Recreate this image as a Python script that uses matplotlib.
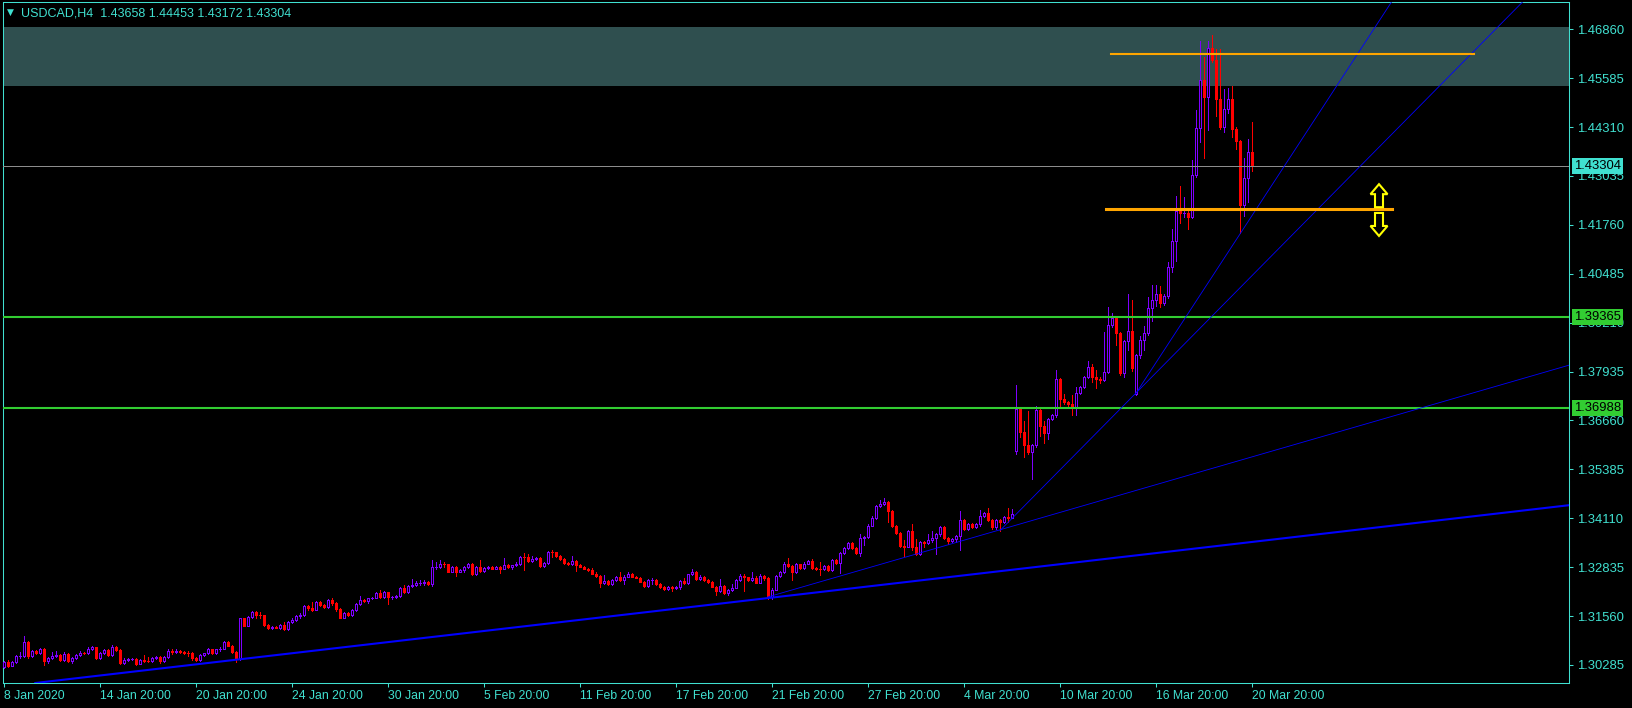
import numpy as np
import matplotlib
matplotlib.use("Agg")
import matplotlib.pyplot as plt
import matplotlib.transforms as mtransforms
from matplotlib.patches import Rectangle, Polygon
from matplotlib.collections import PatchCollection

# USDCAD H4 candles, one per bar, prices in pips (1e-4); open = previous close
first_open = 13024
closes = [13037, 13027, 13037, 13053, 13053, 13088, 13052, 13066, 13059, 13070,
          13040, 13047, 13053, 13054, 13042, 13057, 13039, 13047, 13054, 13060,
          13059, 13070, 13075, 13047, 13060, 13067, 13054, 13075, 13068, 13033,
          13042, 13043, 13044, 13032, 13042, 13040, 13039, 13047, 13049, 13039,
          13050, 13065, 13063, 13066, 13062, 13061, 13060, 13047, 13041, 13054,
          13059, 13070, 13060, 13069, 13071, 13089, 13079, 13062, 13044, 13150,
          13131, 13153, 13167, 13159, 13158, 13133, 13125, 13128, 13126, 13133,
          13122, 13140, 13146, 13155, 13159, 13182, 13176, 13173, 13193, 13185,
          13180, 13198, 13189, 13174, 13152, 13164, 13159, 13173, 13188, 13199,
          13195, 13202, 13204, 13216, 13206, 13219, 13206, 13206, 13208, 13229,
          13219, 13235, 13237, 13241, 13241, 13246, 13240, 13283, 13284, 13292,
          13291, 13272, 13284, 13271, 13276, 13284, 13292, 13267, 13283, 13274,
          13281, 13284, 13280, 13284, 13280, 13289, 13283, 13288, 13293, 13310,
          13309, 13300, 13305, 13308, 13287, 13295, 13323, 13322, 13313, 13306,
          13294, 13293, 13300, 13290, 13285, 13280, 13276, 13267, 13260, 13242,
          13247, 13240, 13250, 13257, 13250, 13259, 13267, 13259, 13256, 13246,
          13235, 13250, 13251, 13240, 13232, 13227, 13232, 13228, 13233, 13247,
          13242, 13265, 13271, 13252, 13259, 13250, 13245, 13233, 13221, 13234,
          13217, 13224, 13230, 13250, 13260, 13257, 13250, 13256, 13243, 13260,
          13256, 13205, 13224, 13260, 13270, 13293, 13287, 13271, 13291, 13281,
          13293, 13300, 13282, 13279, 13278, 13287, 13276, 13302, 13295, 13321,
          13333, 13346, 13334, 13321, 13359, 13363, 13392, 13413, 13443, 13447,
          13453, 13431, 13391, 13373, 13340, 13337, 13378, 13335, 13319, 13349,
          13346, 13354, 13360, 13370, 13388, 13360, 13353, 13357, 13365, 13406,
          13383, 13396, 13389, 13396, 13417, 13425, 13406, 13387, 13406, 13400,
          13414, 13413, 13422, 13696, 13636, 13602, 13583, 13601, 13693, 13652,
          13633, 13670, 13680, 13774, 13722, 13715, 13709, 13702, 13737, 13752,
          13779, 13805, 13778, 13774, 13771, 13793, 13915, 13934, 13893, 13789,
          13873, 13899, 13802, 13837, 13876, 13893, 13958, 13980, 13996, 13973,
          13990, 14065, 14134, 14212, 14206, 14208, 14197, 14306, 14428, 14554,
          14510, 14638, 14607, 14503, 14432, 14477, 14503, 14425, 14395, 14228,
          14297, 14365.8, 14330.4]
highs = [13040, 13042, 13039, 13055, 13062, 13104, 13090, 13068, 13067, 13073,
         13072, 13050, 13062, 13066, 13056, 13062, 13060, 13050, 13056, 13064,
         13062, 13076, 13079, 13076, 13062, 13070, 13069, 13080, 13077, 13069,
         13046, 13046, 13046, 13046, 13044, 13055, 13050, 13049, 13052, 13051,
         13053, 13070, 13070, 13069, 13068, 13065, 13064, 13062, 13049, 13057,
         13061, 13072, 13071, 13071, 13076, 13092, 13091, 13081, 13064, 13152,
         13152, 13156, 13170, 13168, 13167, 13160, 13135, 13130, 13130, 13136,
         13140, 13143, 13152, 13160, 13163, 13185, 13184, 13192, 13195, 13195,
         13188, 13201, 13202, 13192, 13176, 13166, 13166, 13175, 13190, 13208,
         13201, 13204, 13206, 13220, 13224, 13222, 13220, 13209, 13210, 13231,
         13238, 13238, 13253, 13248, 13250, 13249, 13248, 13302, 13298, 13302,
         13298, 13293, 13287, 13286, 13280, 13287, 13295, 13294, 13286, 13302,
         13284, 13286, 13287, 13286, 13286, 13307, 13291, 13290, 13296, 13312,
         13320, 13318, 13312, 13311, 13310, 13298, 13325, 13328, 13324, 13315,
         13308, 13297, 13313, 13302, 13292, 13287, 13282, 13281, 13270, 13262,
         13263, 13250, 13253, 13260, 13272, 13262, 13270, 13269, 13261, 13258,
         13248, 13253, 13255, 13253, 13242, 13235, 13234, 13234, 13235, 13249,
         13254, 13267, 13278, 13273, 13262, 13261, 13252, 13247, 13235, 13252,
         13236, 13226, 13240, 13253, 13266, 13267, 13259, 13271, 13260, 13265,
         13262, 13258, 13228, 13262, 13273, 13296, 13307, 13289, 13294, 13293,
         13296, 13303, 13304, 13285, 13297, 13290, 13289, 13305, 13304, 13323,
         13336, 13349, 13348, 13336, 13369, 13366, 13395, 13416, 13446, 13458,
         13463, 13456, 13433, 13393, 13375, 13354, 13381, 13395, 13356, 13351,
         13352, 13371, 13378, 13373, 13391, 13390, 13362, 13360, 13368, 13430,
         13408, 13399, 13399, 13398, 13432, 13428, 13438, 13408, 13408, 13408,
         13418, 13438, 13435, 13758, 13700, 13665, 13690, 13605, 13704, 13696,
         13665, 13673, 13684, 13797, 13777, 13735, 13718, 13732, 13752, 13756,
         13783, 13820, 13812, 13797, 13780, 13897, 13961, 13947, 13937, 13897,
         13876, 13996, 13980, 13840, 13885, 13913, 13989, 14019, 14019, 14017,
         13995, 14080, 14164, 14250, 14277, 14249, 14211, 14345, 14475, 14654,
         14614, 14654, 14671, 14634, 14634, 14530, 14532, 14538, 14432, 14397,
         14349, 14401, 14445.3]
lows = [13020, 13024, 13025, 13035, 13046, 13050, 13048, 13050, 13057, 13056,
        13028, 13033, 13044, 13050, 13040, 13040, 13036, 13033, 13044, 13052,
        13057, 13057, 13068, 13045, 13044, 13058, 13052, 13052, 13066, 13031,
        13031, 13040, 13041, 13029, 13030, 13036, 13036, 13037, 13044, 13035,
        13037, 13048, 13058, 13061, 13060, 13058, 13052, 13042, 13038, 13040,
        13052, 13057, 13057, 13058, 13066, 13069, 13077, 13060, 13037, 13042,
        13129, 13129, 13151, 13150, 13152, 13130, 13123, 13122, 13124, 13122,
        13119, 13120, 13138, 13144, 13152, 13157, 13172, 13168, 13171, 13182,
        13177, 13178, 13186, 13170, 13150, 13150, 13156, 13157, 13170, 13186,
        13192, 13191, 13200, 13202, 13203, 13204, 13188, 13200, 13203, 13206,
        13216, 13217, 13231, 13235, 13238, 13236, 13236, 13234, 13280, 13282,
        13285, 13270, 13270, 13261, 13270, 13270, 13282, 13264, 13264, 13271,
        13270, 13279, 13278, 13279, 13268, 13278, 13281, 13280, 13286, 13290,
        13276, 13298, 13298, 13303, 13285, 13285, 13292, 13311, 13311, 13303,
        13292, 13290, 13290, 13274, 13283, 13278, 13273, 13265, 13258, 13233,
        13240, 13238, 13238, 13248, 13248, 13239, 13257, 13257, 13254, 13244,
        13233, 13233, 13240, 13238, 13229, 13225, 13225, 13221, 13226, 13226,
        13240, 13240, 13262, 13250, 13250, 13248, 13243, 13231, 13212, 13219,
        13214, 13212, 13222, 13228, 13248, 13222, 13248, 13248, 13241, 13241,
        13250, 13201, 13200, 13224, 13258, 13268, 13285, 13250, 13269, 13279,
        13279, 13291, 13280, 13277, 13264, 13276, 13274, 13274, 13293, 13269,
        13319, 13331, 13332, 13318, 13313, 13341, 13360, 13390, 13410, 13441,
        13445, 13400, 13389, 13370, 13337, 13313, 13335, 13327, 13316, 13316,
        13336, 13343, 13350, 13318, 13365, 13358, 13345, 13350, 13350, 13327,
        13380, 13381, 13386, 13386, 13392, 13414, 13403, 13384, 13384, 13378,
        13398, 13400, 13411, 13579, 13624, 13570, 13578, 13514, 13598, 13625,
        13608, 13618, 13668, 13676, 13705, 13710, 13705, 13680, 13680, 13734,
        13750, 13776, 13765, 13750, 13764, 13768, 13790, 13910, 13863, 13784,
        13780, 13850, 13795, 13732, 13828, 13850, 13890, 13924, 13965, 13961,
        13967, 13985, 14054, 14083, 14180, 14196, 14166, 14195, 14300, 14393,
        14349, 14423, 14600, 14460, 14425, 14419, 14468, 14404, 14373, 14154,
        14199, 14236, 14317.2]
gap_opens = {253: 13586, 283: 13736}   # bars that open away from the previous close

# horizontal levels
zone_low, zone_high = 1.45387, 1.46918
green_levels = [1.39365, 1.36988]
last_price = 1.43304
orange_top = (276.75, 367.5, 1.46221)       # from bar, to bar, price
orange_mid = (275.5, 347.0, 1.42165)
# trend lines: (bar, price), (bar, price)
thick_line = ((5.7, 1.2979), (191, 1.3203))
rays = [((191, 1.3206), (250, 1.3384)),
        ((249, 1.3379), (282.75, 1.3735)),
        ((282.75, 1.3733), (314, 1.4232))]
arrow_bar, arrow_up, arrow_down = 343.75, 1.4252, 1.4177

y_ticks = [1.30285, 1.31560, 1.32835, 1.34110, 1.35385, 1.36660, 1.37935,
           1.39210, 1.40485, 1.41760, 1.43035, 1.44310, 1.45585, 1.46860]
x_tick_bars = [0, 24, 48, 72, 96, 120, 144, 168, 192, 216, 240, 264, 288, 312]
x_tick_labels = ["8 Jan 2020", "14 Jan 20:00", "20 Jan 20:00", "24 Jan 20:00",
                 "30 Jan 20:00", "5 Feb 20:00", "11 Feb 20:00", "17 Feb 20:00",
                 "21 Feb 20:00", "27 Feb 20:00", "4 Mar 20:00", "10 Mar 20:00",
                 "16 Mar 20:00", "20 Mar 20:00"]
title = "USDCAD,H4  1.43658 1.44453 1.43172 1.43304"

AXIS = "#40E0D0"
BULL = "#7F00FF"
BEAR = "#FF0000"
plt.rcParams['font.family'] = ['Liberation Sans', 'DejaVu Sans']

c = np.array(closes) / 1e4
h = np.array(highs) / 1e4
l = np.array(lows) / 1e4
o = np.concatenate([[first_open], closes[:-1]]) / 1e4
for bar, price in gap_opens.items():
    o[bar] = price / 1e4
idx = np.arange(len(c))
bull = c >= o

fig = plt.figure(figsize=(16.33, 7.08), dpi=100, facecolor="black")
ax = fig.add_axes([3 / 1633, 25 / 708, 1566 / 1633, 681 / 708])
ax.set_facecolor("black")
ax.set_xlim(-0.25, 391.25)
ax.set_ylim(1.298157, 1.475691)

ax.axhspan(zone_low, zone_high, color="#2F4F4F", lw=0, zorder=0)

# candles
ax.vlines(idx[bull], l[bull], h[bull], color=BULL, lw=0.72, antialiased=False, zorder=3)
ax.vlines(idx[~bull], l[~bull], h[~bull], color=BEAR, lw=0.72, antialiased=False, zorder=3)
bodies = [Rectangle((i - 0.25, min(oo, cc)), 0.5, abs(cc - oo)) for i, oo, cc in zip(idx, o, c)]
ax.add_collection(PatchCollection(bodies, facecolors=["black" if b else BEAR for b in bull],
                                  edgecolors=[BULL if b else BEAR for b in bull],
                                  linewidths=0.72, antialiased=False, zorder=4))

# levels and trend lines
ax.axhline(last_price, color="#8C8C8C", lw=0.72, zorder=5)
for lvl in green_levels:
    ax.axhline(lvl, color="#32CD32", lw=1.5, zorder=5)
ax.plot(orange_top[:2], [orange_top[2]] * 2, color="#FFA500", lw=1.5, zorder=6)
ax.plot(orange_mid[:2], [orange_mid[2]] * 2, color="#FFA500", lw=2.2, zorder=6)
ax.axline(thick_line[0], thick_line[1], color="#0000FF", lw=1.5, zorder=5)
x_end = ax.get_xlim()[1] + 5
for (x1, y1), (x2, y2) in rays:
    slope = (y2 - y1) / (x2 - x1)
    ax.plot([x1, x_end], [y1, y1 + slope * (x_end - x1)], color="#0000FF", lw=0.6, zorder=5)

# hollow up / down arrows, shape in pixels placed at a data point
arrow_shape = np.array([[0, 11.5], [8.5, 1.5], [4, 1.5], [4, -11.5],
                        [-4, -11.5], [-4, 1.5], [-8.5, 1.5]])
for price, flip in [(arrow_up, 1), (arrow_down, -1)]:
    tr = mtransforms.Affine2D().scale(1, flip) + mtransforms.ScaledTranslation(arrow_bar, price, ax.transData)
    ax.add_patch(Polygon(arrow_shape, closed=True, transform=tr, fc="none", ec="#FFFF00",
                         lw=1.5, zorder=7))

# axes look
for side in ["left", "right", "top", "bottom"]:
    ax.spines[side].set_color(AXIS)
    ax.spines[side].set_linewidth(0.75)
ax.yaxis.tick_right()
ax.set_yticks(y_ticks)
ax.set_yticklabels([f"{v:.5f}" for v in y_ticks])
ax.tick_params(axis="y", colors=AXIS, length=3, width=0.75, pad=3, labelsize=9.4)
ax.set_xticks(x_tick_bars)
ax.set_xticklabels(x_tick_labels, ha="left")
ax.tick_params(axis="x", colors=AXIS, length=3, width=0.75, pad=2, labelsize=8.8)

trans = mtransforms.blended_transform_factory(ax.transAxes, ax.transData)
for price, fc in [(last_price, AXIS)] + [(g, "#32CD32") for g in green_levels]:
    ax.text(1.0032, price, f"{price:.5f}", transform=trans, ha="left", va="center", color="black",
            fontsize=9.4, clip_on=False, zorder=10,
            bbox=dict(boxstyle="square,pad=0.15", fc=fc, ec="none"))

fig.text(7 / 1633, 1 - 12 / 708, "\u25bc", color=AXIS, fontsize=6.5, va="center", family="DejaVu Sans")
fig.text(21 / 1633, 1 - 13 / 708, title, color=AXIS, fontsize=9.0, va="center", ha="left")

fig.savefig("out.png", dpi=100, facecolor="black")
